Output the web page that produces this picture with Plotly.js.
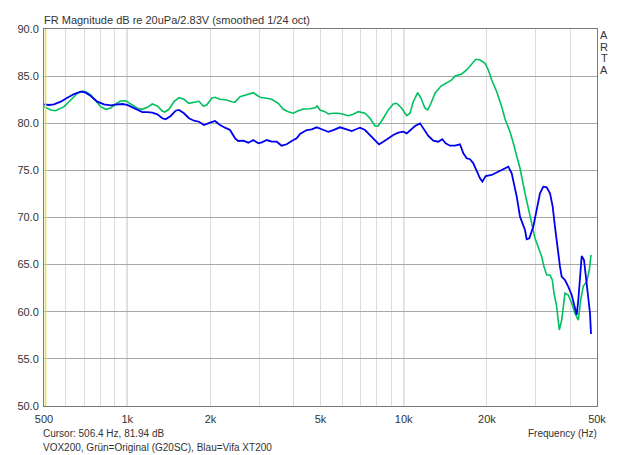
<!DOCTYPE html>
<html>
<head>
<meta charset="utf-8">
<script src="https://cdn.plot.ly/plotly-3.0.1.min.js"></script>
<style>html,body{margin:0;padding:0;background:#fff;}#chart{width:640px;height:455px;}</style>
</head>
<body>
<div id="chart"></div>
<script>
// Green = Original (G20SC)
const greenFreq = [500,529,551,591,625,660,688,708,738,769,802,836,872,908,947,987,1029,1088,1134,1182,1232,1285,1339,1366,1416,1476,1539,1604,1672,1744,1818,1884,1938,2021,2077,2166,2290,2388,2454,2558,2705,2857,2940,3022,3195,3331,3519,3669,3824,3987,4156,4333,4581,4776,4868,4979,5190,5335,5562,5799,6046,6302,6571,6851,7244,7552,7872,8091,8435,8793,9166,9432,9833,10251,10536,10829,11234,11547,11936,12207,12549,12973,13642,14301,14910,15326,16205,16895,17367,17851,18211,18874,19676,20227,20806,21692,22612,23244,24235,24911,25624,26334,27450,28218,29030,29836,30665,31548,32161,32891,33806,34459,34951,35740,36523,37260,38303,39366,40502,41629,42793,43662,44614,45896,46900,47565];
const greenDb = [81.76,81.41,81.33,81.76,82.47,83.18,83.42,83.35,83.0,82.39,81.76,81.48,81.62,82.04,82.36,82.39,82.04,81.59,81.48,81.69,82.04,81.83,81.30,81.19,81.48,82.29,82.71,82.54,82.12,82.22,82.33,81.83,81.94,82.65,82.75,82.54,82.47,82.29,82.25,82.82,83.0,83.24,83.0,82.75,82.65,82.54,82.12,81.48,81.23,81.06,81.33,81.51,81.54,81.65,81.83,81.41,81.23,80.98,81.06,81.06,80.95,80.80,80.95,81.23,81.06,80.53,79.71,79.71,80.53,81.41,82.04,82.12,81.59,80.80,81.06,82.29,83.24,82.65,81.59,81.41,82.12,83.18,83.95,84.30,84.59,85.01,85.23,85.65,86.07,86.42,86.79,86.71,86.36,85.65,84.59,83.35,81.76,80.45,79.10,77.87,76.63,75.22,72.57,71.15,69.38,67.79,66.90,65.84,64.78,63.90,63.90,63.37,61.96,60.54,58.06,59.12,61.96,61.78,60.90,59.84,59.12,61.25,62.73,63.19,64.43,66.02];
// Blue = Vifa XT200
const blueFreq = [500,521,543,575,607,642,679,708,738,779,824,872,908,960,1000,1043,1088,1134,1182,1232,1285,1339,1377,1436,1497,1539,1604,1672,1744,1818,1895,1938,1992,2077,2166,2257,2354,2454,2521,2629,2741,2857,2979,3065,3195,3331,3472,3619,3773,3933,4101,4216,4458,4647,4845,5050,5335,5562,5883,6218,6483,6760,6949,7244,7552,7872,8139,8435,8793,9166,9556,9963,10251,10536,10986,11452,11769,12271,12794,13338,13783,14180,14698,15326,15977,16426,16895,17367,17851,18361,18874,19240,19790,20806,21692,22612,23244,23891,24572,24911,25624,26334,27450,27838,28451,29408,30254,31104,31975,32891,33806,34572,35234,35918,36737,37260,38303,39366,40502,41629,42231,42793,43394,44018,44870,45624,46512,47170,47565];
const blueDb = [82.01,81.94,82.01,82.29,82.71,83.10,83.35,83.24,82.89,82.29,82.01,81.90,81.97,82.04,81.94,81.69,81.41,81.19,81.19,81.12,80.95,80.53,80.42,80.77,81.33,81.41,81.06,80.53,80.27,80.16,79.81,79.89,80.06,80.24,79.81,79.53,79.28,78.40,78.12,78.15,77.94,78.22,77.87,77.98,78.22,78.04,78.04,77.62,77.77,78.12,78.40,78.86,79.28,79.36,79.57,79.36,79.10,79.28,79.57,79.36,79.18,79.39,79.53,79.28,78.75,78.22,77.77,78.04,78.40,78.75,79.0,79.10,78.93,79.21,79.71,79.99,79.46,78.65,78.15,78.04,78.30,77.87,77.62,77.62,77.77,76.81,76.28,76.18,75.75,74.86,74.16,73.80,74.40,74.51,74.75,75.04,75.22,75.39,74.69,73.98,72.21,70.09,68.67,67.69,67.79,69.02,70.80,72.57,73.27,73.20,72.57,71.15,69.02,66.90,64.78,63.72,63.37,62.66,61.78,60.37,59.66,61.25,63.72,65.92,65.49,63.72,61.96,59.84,57.64];

const xTickVals = [500,1000,2000,5000,10000,20000,50000];
const xTickText = ['500','1k','2k','5k','10k','20k','50k'];
const xMinorVals = [600,700,800,900,3000,4000,6000,7000,8000,9000,30000,40000];
const yTickVals = [50,55,60,65,70,75,80,85,90];
const decadeLines = [1000,10000];
const cursorFreq = 506.4;
const brandLetters = ['A','R','T','A'];

const font = 'Liberation Sans, Arial, sans-serif';
const txt = '#333333';

const traces = [
  {x: greenFreq, y: greenDb, type: 'scatter', mode: 'lines', line: {color: '#00c060', width: 1.6}, hoverinfo: 'skip'},
  {x: blueFreq, y: blueDb, type: 'scatter', mode: 'lines', line: {color: '#0000f0', width: 1.8}, hoverinfo: 'skip'}
];

const shapes = decadeLines.map(f => ({type: 'line', xref: 'x', yref: 'paper', x0: f, x1: f, y0: 0, y1: 1, line: {color: '#a0a0a0', width: 1}, layer: 'below'}));
shapes.push({type: 'line', xref: 'x', yref: 'paper', x0: cursorFreq, x1: cursorFreq, y0: 0, y1: 1, line: {color: '#e8e030', width: 1.5}});

const annotations = brandLetters.map((ch, i) => ({
  text: ch, xref: 'paper', yref: 'paper', x: (604-44)/553, y: 1 - (35 + i*11.5 - 29)/377,
  xanchor: 'center', yanchor: 'middle', showarrow: false, font: {family: font, size: 11, color: txt}
}));
annotations.push(
  {text: 'Cursor: 506.4 Hz, 81.94 dB', xref: 'paper', yref: 'paper', x: 0, xshift: -3, y: -(433-406)/377, xanchor: 'left', yanchor: 'middle', showarrow: false, font: {family: font, size: 10, color: txt}},
  {text: 'VOX200, Grün=Original (G20SC), Blau=Vifa XT200', xref: 'paper', yref: 'paper', x: 0, xshift: -3, y: -(447-406)/377, xanchor: 'left', yanchor: 'middle', showarrow: false, font: {family: font, size: 10, color: txt}},
  {text: 'Frequency (Hz)', xref: 'paper', yref: 'paper', x: 1, xshift: 2, y: -(433-406)/377, xanchor: 'right', yanchor: 'middle', showarrow: false, font: {family: font, size: 10, color: txt}}
);

const layout = {
  width: 640, height: 455,
  margin: {l: 44, r: 43, t: 29, b: 49},
  paper_bgcolor: '#ffffff', plot_bgcolor: '#ffffff',
  showlegend: false,
  font: {family: font, size: 11, color: txt},
  title: {text: 'FR Magnitude dB re 20uPa/2.83V (smoothed 1/24 oct)', font: {family: font, size: 11, color: txt}, xref: 'paper', x: 0, xanchor: 'left', yref: 'container', y: 1 - 20/455, yanchor: 'middle'},
  xaxis: {
    type: 'log', range: [Math.log10(500), Math.log10(50000)],
    tickmode: 'array', tickvals: xTickVals, ticktext: xTickText,
    showgrid: true, gridcolor: '#dcdcdc', gridwidth: 1,
    minor: {tickmode: 'array', tickvals: xMinorVals, showgrid: true, gridcolor: '#dcdcdc', gridwidth: 1, ticks: ''},
    showline: true, mirror: true, linecolor: '#7a7a7a', linewidth: 1,
    zeroline: false, ticks: '', ticklabelstandoff: 3, tickfont: {family: font, size: 11, color: txt}, fixedrange: true
  },
  yaxis: {
    range: [50, 90], tickmode: 'array', tickvals: yTickVals, tickformat: '.1f',
    showgrid: true, gridcolor: '#a8a8a8', gridwidth: 1,
    showline: true, mirror: true, linecolor: '#7a7a7a', linewidth: 1,
    zeroline: false, ticks: '', ticklabelstandoff: 2, tickfont: {family: font, size: 11, color: txt}, fixedrange: true
  },
  shapes: shapes,
  annotations: annotations
};

Plotly.newPlot('chart', traces, layout, {displayModeBar: false, staticPlot: true});
</script>
</body>
</html>
